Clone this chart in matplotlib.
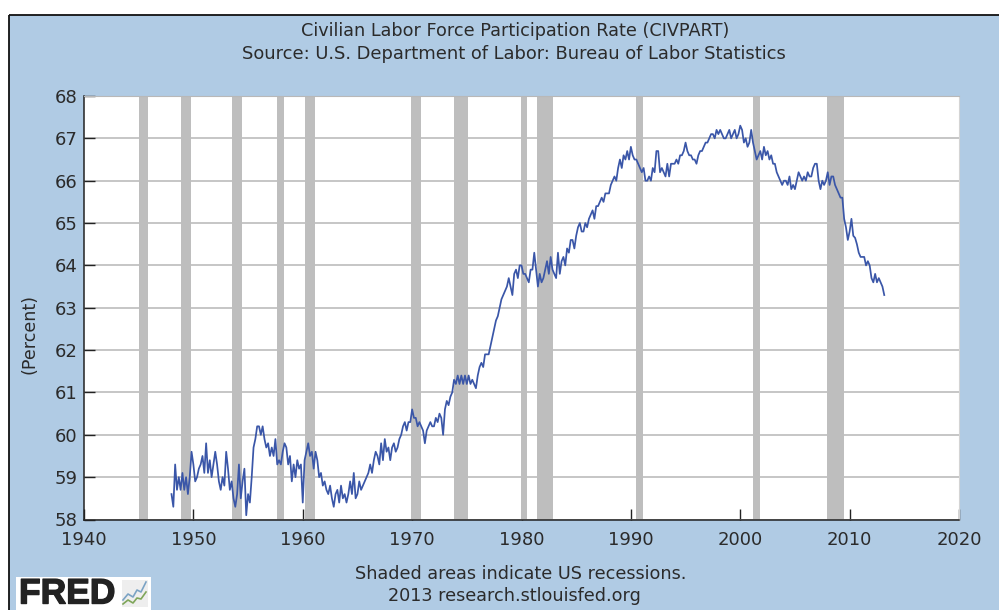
# %% Packages

import numpy as np
import matplotlib
matplotlib.use('Agg')
import matplotlib.pyplot as plt
import matplotlib.patheffects as pe
from matplotlib.patches import Rectangle

# %% Data (bi-monthly, starting 1948)

start_year = 1948
values_1940s = [58.6, 58.3, 59.3, 58.7, 59.0, 58.7,
                59.1, 58.7, 59.0, 58.6, 59.0, 59.6]
values_1950s = [59.3, 58.9, 59.0, 59.2, 59.3, 59.5,
                59.1, 59.8, 59.1, 59.4, 59.0, 59.3,
                59.6, 59.3, 58.9, 58.7, 59.0, 58.8,
                59.6, 59.2, 58.7, 58.9, 58.5, 58.3,
                58.6, 59.3, 58.5, 58.9, 59.2, 58.1,
                58.6, 58.4, 59.0, 59.7, 59.9, 60.2,
                60.2, 60.0, 60.2, 59.9, 59.7, 59.8,
                59.5, 59.7, 59.5, 59.9, 59.3, 59.4,
                59.3, 59.6, 59.8, 59.7, 59.3, 59.5,
                58.9, 59.3, 59.0, 59.4, 59.2, 59.3]
values_1960s = [58.4, 59.4, 59.6, 59.8, 59.5, 59.6,
                59.2, 59.6, 59.4, 59.0, 59.1, 58.8,
                58.9, 58.7, 58.6, 58.8, 58.5, 58.3,
                58.6, 58.7, 58.4, 58.8, 58.5, 58.6,
                58.4, 58.6, 58.9, 58.6, 59.1, 58.5,
                58.6, 58.9, 58.7, 58.8, 58.9, 59.0,
                59.1, 59.3, 59.1, 59.4, 59.6, 59.5,
                59.3, 59.8, 59.4, 59.9, 59.6, 59.7,
                59.4, 59.7, 59.8, 59.6, 59.7, 59.9,
                60.0, 60.2, 60.3, 60.1, 60.3, 60.3]
values_1970s = [60.6, 60.4, 60.4, 60.2, 60.3, 60.2,
                60.1, 59.8, 60.1, 60.2, 60.3, 60.2,
                60.2, 60.4, 60.3, 60.5, 60.4, 60.0,
                60.6, 60.8, 60.7, 60.9, 61.0, 61.3,
                61.2, 61.4, 61.2, 61.4, 61.2, 61.4,
                61.2, 61.4, 61.2, 61.3, 61.2, 61.1,
                61.4, 61.6, 61.7, 61.6, 61.9, 61.9,
                61.9, 62.1, 62.3, 62.5, 62.7, 62.8,
                63.0, 63.2, 63.3, 63.4, 63.5, 63.7,
                63.5, 63.3, 63.8, 63.9, 63.7, 64.0]
values_1980s = [64.0, 63.8, 63.8, 63.7, 63.6, 63.9,
                63.9, 64.3, 63.9, 63.5, 63.8, 63.6,
                63.7, 63.9, 64.1, 63.8, 64.2, 63.9,
                63.8, 63.7, 64.3, 63.8, 64.1, 64.2,
                64.0, 64.4, 64.3, 64.6, 64.6, 64.4,
                64.7, 64.9, 65.0, 64.8, 64.8, 65.0,
                64.9, 65.1, 65.2, 65.3, 65.1, 65.4,
                65.4, 65.5, 65.6, 65.5, 65.7, 65.7,
                65.7, 65.9, 66.0, 66.1, 66.0, 66.3,
                66.5, 66.3, 66.6, 66.5, 66.7, 66.5]
values_1990s = [66.8, 66.6, 66.5, 66.5, 66.4, 66.3,
                66.2, 66.3, 66.0, 66.0, 66.1, 66.0,
                66.3, 66.2, 66.7, 66.7, 66.2, 66.3,
                66.2, 66.1, 66.4, 66.1, 66.4, 66.4,
                66.4, 66.5, 66.4, 66.6, 66.6, 66.7,
                66.9, 66.7, 66.6, 66.6, 66.5, 66.5,
                66.4, 66.6, 66.7, 66.7, 66.8, 66.9,
                66.9, 67.0, 67.1, 67.1, 67.0, 67.2,
                67.1, 67.2, 67.1, 67.0, 67.0, 67.1,
                67.2, 67.0, 67.1, 67.2, 67.0, 67.1]
values_2000s = [67.3, 67.2, 66.9, 67.0, 66.8, 66.9,
                67.2, 66.9, 66.7, 66.5, 66.6, 66.7,
                66.5, 66.8, 66.6, 66.7, 66.5, 66.6,
                66.4, 66.4, 66.2, 66.1, 66.0, 65.9,
                66.0, 66.0, 65.9, 66.1, 65.8, 65.9,
                65.8, 66.0, 66.2, 66.1, 66.0, 66.1,
                66.0, 66.2, 66.1, 66.1, 66.3, 66.4,
                66.4, 66.0, 65.8, 66.0, 65.9, 66.0,
                66.2, 65.9, 66.1, 66.1, 65.9, 65.8,
                65.7, 65.6, 65.6, 65.1, 64.9, 64.6]
values_2010s = [64.8, 65.1, 64.7, 64.65, 64.5, 64.3,
                64.2, 64.2, 64.2, 64.0, 64.1, 64.0,
                63.7, 63.6, 63.8, 63.6, 63.7, 63.6,
                63.5, 63.3]

rate = np.array(values_1940s + values_1950s + values_1960s + values_1970s
                + values_1980s + values_1990s + values_2000s + values_2010s)
years = start_year + np.arange(len(rate)) / 6.0

recession_start = [1945.03, 1948.87, 1953.5, 1957.6, 1960.25, 1969.87,
                   1973.83, 1979.95, 1981.45, 1990.45, 2001.15, 2007.9]
recession_end = [1945.85, 1949.8, 1954.4, 1958.3, 1961.1, 1970.83,
                 1975.15, 1980.5, 1982.85, 1991.15, 2001.85, 2009.45]

x_ticks = np.arange(1940, 2021, 10)
y_ticks = np.arange(58, 69, 1)

# %% Layout

W, H = 999, 610
panel_color = '#b0cbe4'
text_color = '#2b2b2b'
font = 'DejaVu Sans'
note_size = 12.7

plt.rcParams['font.family'] = font

fig = plt.figure(figsize=(W/100, H/100), dpi=100, facecolor='white')

# Blue panel with black left and top edge
bg = fig.add_axes([0, 0, 1, 1], zorder=0)
bg.set_xlim(0, W); bg.set_ylim(H, 0); bg.axis('off')
bg.add_patch(Rectangle((9, 15), W, H, fc=panel_color, ec='none'))
bg.plot([9, 9], [H, 15], color='#111111', lw=1.3, solid_capstyle='butt')
bg.plot([9, W], [15, 15], color='#111111', lw=1.3, solid_capstyle='butt')

# Plot area
ax = fig.add_axes([84/W, 1 - 519.5/H, (959-84)/W, (519.5-96)/H], zorder=1)
ax.set_xlim(1940, 2020)
ax.set_ylim(58, 68)
ax.set_facecolor('white')

for a, b in zip(recession_start, recession_end):
    ax.axvspan(a, b, color='#bebebe', lw=0, zorder=2)
ax.grid(axis='y', color='#c2c2c2', lw=1.3, zorder=1)
ax.set_axisbelow(True)

ax.plot(years, rate, color='#3a56a8', lw=1.25, zorder=3)

ax.spines['top'].set_color('#b8b8b8')
ax.spines['right'].set_color('#d4d4d4')
for side in ['left', 'bottom']:
    ax.spines[side].set_color('#222222')
    ax.spines[side].set_linewidth(1.1)

ax.set_xticks(x_ticks)
ax.set_yticks(y_ticks)
ax.tick_params(axis='both', direction='in', length=8, width=1.0, color='#222222',
               labelsize=13, labelcolor=text_color)
ax.tick_params(axis='y', pad=4.5)
ax.tick_params(axis='x', pad=8.5)
ax.set_ylabel('(Percent)', fontsize=12.6, color=text_color)
ax.yaxis.set_label_coords(-46/875, 0.438)

# Titles and notes
bg.text(515, 31, 'Civilian Labor Force Participation Rate (CIVPART)', ha='center', va='center',
        fontsize=note_size, color=text_color)
bg.text(513.5, 54, 'Source: U.S. Department of Labor: Bureau of Labor Statistics', ha='center',
        va='center', fontsize=12.85, color=text_color)
bg.text(521, 574, 'Shaded areas indicate US recessions.', ha='center', va='center',
        fontsize=note_size, color=text_color)
bg.text(514, 596, '2013 research.stlouisfed.org', ha='center', va='center',
        fontsize=note_size, color=text_color)

# FRED logo
bg.add_patch(Rectangle((16, 577), 135, 33, fc='white', ec='none'))
bg.text(19, 594, 'FRED', ha='left', va='center', fontsize=25.5, fontweight='bold',
        color='#222222', family='Liberation Sans',
        path_effects=[pe.withStroke(linewidth=1.0, foreground='#222222')])
bg.add_patch(Rectangle((122, 580), 26, 27, fc='#eeeeee', ec='none'))
logo_x = [123, 128, 133, 137, 141, 146]
logo_blue = [600, 594, 597, 590, 592, 582]
logo_green = [604, 600, 603, 598, 599, 592]
bg.plot(logo_x, logo_blue, color='#7ba3c4', lw=1.2)
bg.plot(logo_x, logo_green, color='#7fa65a', lw=1.2)

fig.savefig('out.png', dpi=100, facecolor='white')
